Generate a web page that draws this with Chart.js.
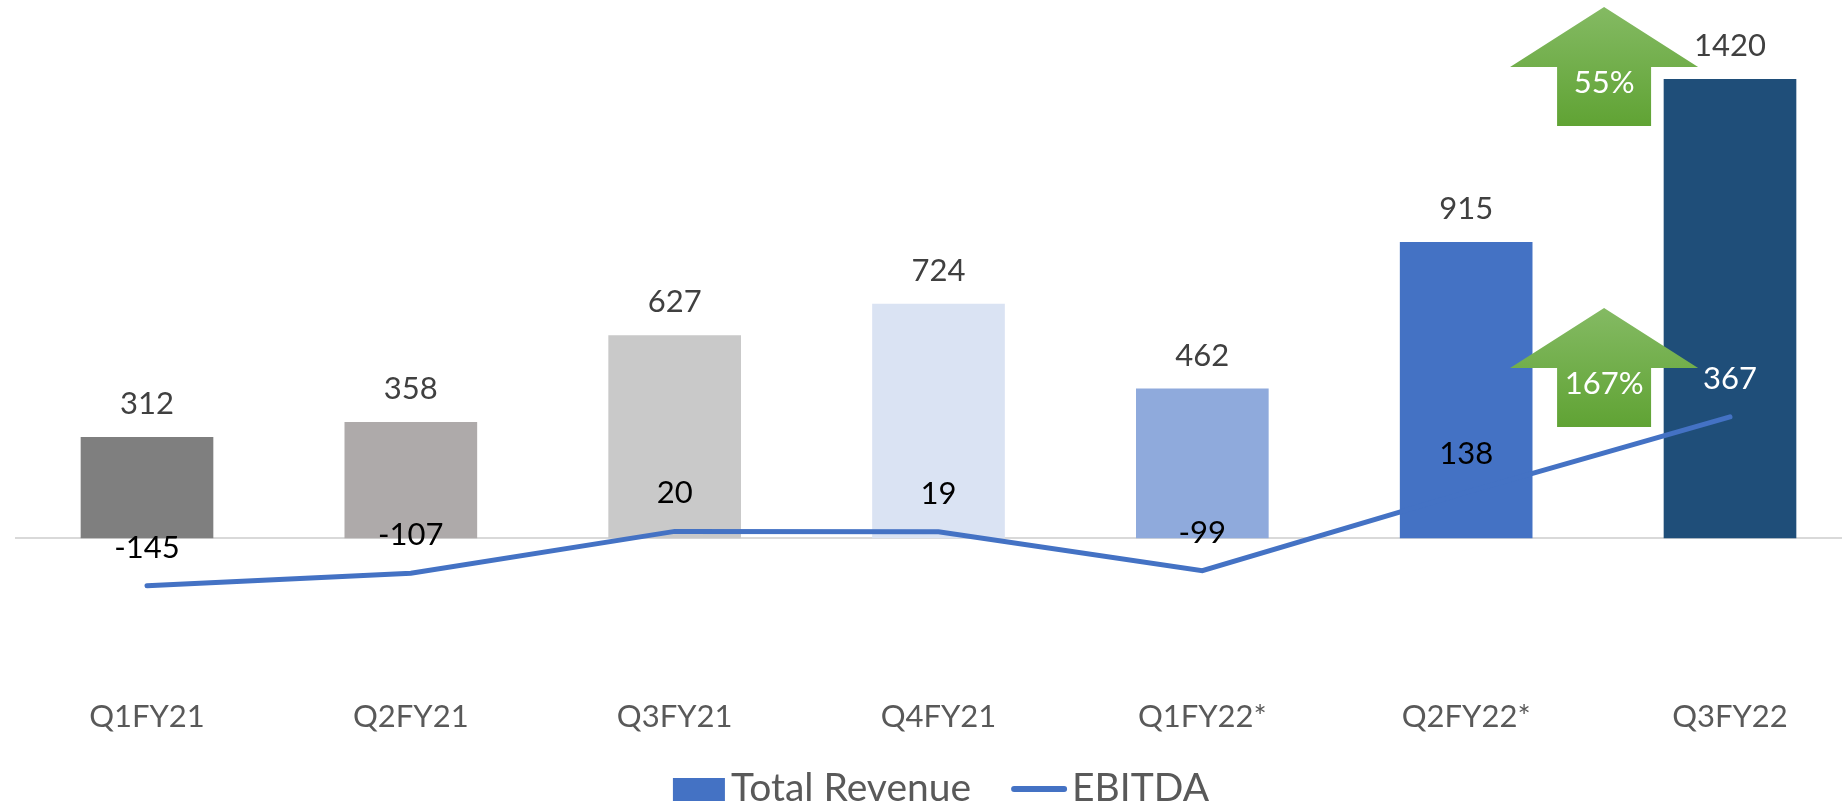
<!DOCTYPE html>
<html lang="en">
<head>
  <meta charset="UTF-8" />
  <title>Total Revenue and EBITDA</title>
  <script src="https://cdn.jsdelivr.net/npm/chart.js"></script>
  <style>
    html, body { margin: 0; padding: 0; background: #ffffff; }
    #wrap { width: 1842px; height: 808px; position: relative; }
  </style>
</head>
<body>
  <div id="wrap"><canvas id="revChart"></canvas></div>

  <script>
    // data
    const quarters = ['Q1FY21', 'Q2FY21', 'Q3FY21', 'Q4FY21', 'Q1FY22*', 'Q2FY22*', 'Q3FY22'];
    const totalRevenue = [312, 358, 627, 724, 462, 915, 1420];
    const ebitda = [-145, -107, 20, 19, -99, 138, 367];
    const barColors = ['#7f7f7f', '#aeaaaa', '#c9c9c9', '#dae3f3', '#8faadc', '#4472c4', '#1f4e79'];
    const ebitdaLabelColors = ['#000000', '#000000', '#000000', '#000000', '#000000', '#000000', '#ffffff'];
    // growth arrows: tip height given in revenue units
    const growthArrows = [
      { text: '55%', tip: 1644 },
      { text: '167%', tip: 712 }
    ];

    const FONT = 'Lato, "Open Sans", sans-serif';

    // zero line, value labels, arrows and legend
    const extras = {
      id: 'extras',
      beforeDatasetsDraw(chart) {
        const ctx = chart.ctx;
        const y0 = chart.scales.y.getPixelForValue(0);
        ctx.save();
        ctx.strokeStyle = '#d9d9d9';
        ctx.lineWidth = 2;
        ctx.beginPath();
        ctx.moveTo(15, y0);
        ctx.lineTo(chart.width, y0);
        ctx.stroke();
        ctx.restore();
      },
      afterDatasetsDraw(chart) {
        const ctx = chart.ctx;
        const xs = chart.scales.x, ys = chart.scales.y, ys1 = chart.scales.y1;
        ctx.save();
        ctx.font = '31px ' + FONT;
        ctx.textAlign = 'center';
        ctx.textBaseline = 'middle';

        // bar labels
        totalRevenue.forEach((v, i) => {
          ctx.fillStyle = '#404040';
          ctx.fillText(String(v), xs.getPixelForValue(i), ys.getPixelForValue(v) - 33);
        });

        // arrows
        const cx = (xs.getPixelForValue(5) + xs.getPixelForValue(6)) / 2 + 6;
        growthArrows.forEach(a => {
          const tip = ys.getPixelForValue(a.tip);
          const wing = tip + 60, bottom = tip + 119;
          const g = ctx.createLinearGradient(0, tip, 0, bottom);
          g.addColorStop(0, '#84ba63');
          g.addColorStop(1, '#60a334');
          ctx.fillStyle = g;
          ctx.beginPath();
          ctx.moveTo(cx, tip);
          ctx.lineTo(cx + 94, wing);
          ctx.lineTo(cx + 47, wing);
          ctx.lineTo(cx + 47, bottom);
          ctx.lineTo(cx - 47, bottom);
          ctx.lineTo(cx - 47, wing);
          ctx.lineTo(cx - 94, wing);
          ctx.closePath();
          ctx.fill();
          ctx.fillStyle = '#ffffff';
          ctx.fillText(a.text, cx, tip + 76);
        });

        // EBITDA labels
        ebitda.forEach((v, i) => {
          ctx.fillStyle = ebitdaLabelColors[i];
          ctx.fillText(String(v), xs.getPixelForValue(i), ys1.getPixelForValue(v) - 38);
        });

        // legend
        ctx.font = '39px ' + FONT;
        ctx.textAlign = 'left';
        ctx.textBaseline = 'alphabetic';
        const t1 = 'Total Revenue', t2 = 'EBITDA';
        const w1 = ctx.measureText(t1).width, w2 = ctx.measureText(t2).width;
        const total = 52 + 6 + w1 + 40 + 56 + 5 + w2;
        let lx = 941 - total / 2;
        const ly = 789;
        ctx.fillStyle = '#4472c4';
        ctx.fillRect(lx, ly - 11, 52, 23);
        lx += 58;
        ctx.fillStyle = '#595959';
        ctx.fillText(t1, lx, ly + 12);
        lx += w1 + 40;
        ctx.strokeStyle = '#4472c4';
        ctx.lineWidth = 6;
        ctx.lineCap = 'round';
        ctx.beginPath();
        ctx.moveTo(lx + 3, ly);
        ctx.lineTo(lx + 53, ly);
        ctx.stroke();
        lx += 61;
        ctx.fillText(t2, lx, ly + 12);
        ctx.restore();
      }
    };

    const ctx = document.getElementById('revChart').getContext('2d');
    new Chart(ctx, {
      data: {
        labels: quarters,
        datasets: [
          {
            type: 'line',
            label: 'EBITDA',
            data: ebitda,
            yAxisID: 'y1',
            borderColor: '#4472c4',
            borderWidth: 5,
            borderCapStyle: 'round',
            borderJoinStyle: 'miter',
            pointRadius: 0,
            tension: 0,
            clip: false,
            order: 0
          },
          {
            type: 'bar',
            label: 'Total Revenue',
            data: totalRevenue,
            yAxisID: 'y',
            backgroundColor: barColors,
            barThickness: 132,
            clip: false,
            order: 1
          }
        ]
      },
      options: {
        responsive: true,
        maintainAspectRatio: false,
        animation: false,
        layout: { padding: { left: 147, right: 112, top: 20, bottom: 58 } },
        plugins: {
          legend: { display: false },
          tooltip: { enabled: false }
        },
        scales: {
          x: {
            offset: false,
            grid: { display: false, drawTicks: false },
            border: { display: false },
            ticks: {
              color: '#595959',
              font: { family: FONT, size: 31 },
              padding: 18,
              maxRotation: 0,
              autoSkip: false
            },
            afterFit(scale) { scale.height = 70; }
          },
          y: {
            display: false,
            min: -439.6,
            max: 1603.7
          },
          y1: {
            display: false,
            min: -430.3,
            max: 1569.7
          }
        }
      },
      plugins: [extras]
    });
  </script>
</body>
</html>
